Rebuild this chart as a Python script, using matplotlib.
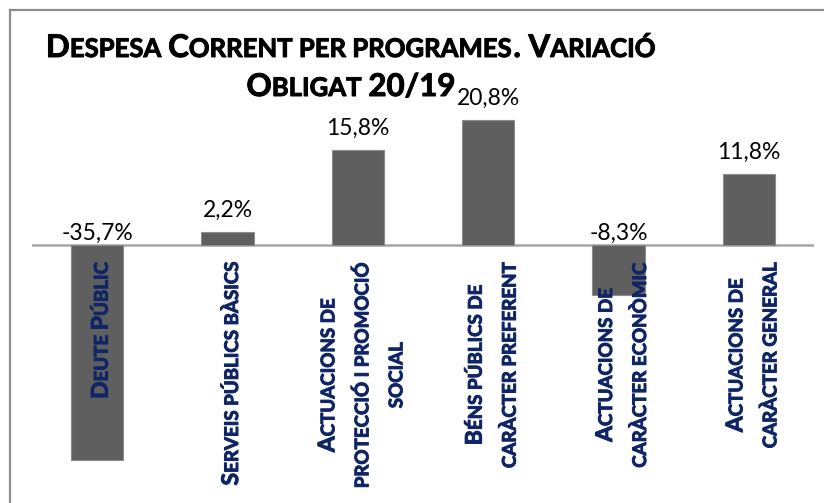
import matplotlib
matplotlib.use("Agg")
import matplotlib.pyplot as plt
import matplotlib.patheffects as pe
from matplotlib.font_manager import FontProperties
from matplotlib.lines import Line2D

# data
categories = [
    ["Deute Públic"],
    ["Serveis públics bàsics"],
    ["Actuacions de", "protecció i promoció", "social"],
    ["Béns públics de", "caràcter preferent"],
    ["Actuacions de", "caràcter econòmic"],
    ["Actuacions de", "caràcter general"],
]
values = [-35.7, 2.2, 15.8, 20.8, -8.3, 11.8]
title_lines = ["Despesa Corrent per programes. Variació", "Obligat 20/19"]

W, H = 824, 503
FONT = "Lato"
NAVY = "#0f2566"

fig = plt.figure(figsize=(W / 100, H / 100), dpi=100)
ax = fig.add_axes([32 / W, (H - 490) / H, 782 / W, (490 - 100) / H])

x = list(range(len(values)))
ax.bar(x, values, width=0.4, color="#5f5f5f", edgecolor="#8c8c8c", linewidth=0.8, zorder=2)
ax.set_xlim(-0.5, len(values) - 0.5)
ax.set_ylim(-(490 - 245) / 6.01, (245 - 100) / 6.01)
ax.axhline(0, color="#a6a6a6", lw=1.8, zorder=1)
ax.axis("off")

for i, v in enumerate(values):
    lbl = f"{v:.1f}%".replace(".", ",")
    ax.annotate(lbl, (i, max(v, 0)), xytext=(0, 15 if v > 0 else 5),
                textcoords="offset pixels", ha="center", va="baseline",
                fontsize=16.5, family=FONT, color="black")

renderer = fig.canvas.get_renderer()


def sc_runs(s):
    runs = []
    for ch in s:
        small = ch.islower()
        if ch == " " and runs:
            small = runs[-1][1]
        if runs and runs[-1][1] == small:
            runs[-1][0] += ch.upper()
        else:
            runs.append([ch.upper(), small])
    return runs


def run_width(r, prop):
    w1 = renderer.get_text_width_height_descent("|" + r + "|", prop, False)[0]
    w0 = renderer.get_text_width_height_descent("||", prop, False)[0]
    return w1 - w0


def props(big, small, is_small, weight):
    return FontProperties(family=FONT, weight=weight, size=small if is_small else big)


def sc_width(s, big, small, weight="bold"):
    return sum(run_width(r, props(big, small, sm, weight)) for r, sm in sc_runs(s))


def draw_sc(s, x0, y0, big, small, rot=0, color="black", weight="bold"):
    # x0, y0 = start of baseline in pixels (origin bottom-left)
    pos = 0.0
    for r, sm in sc_runs(s):
        p = props(big, small, sm, weight)
        if rot == 0:
            px, py = x0 + pos, y0
        else:
            px, py = x0, y0 + pos
        fig.text(px / W, py / H, r, fontproperties=p, rotation=rot,
                 rotation_mode="anchor", ha="left", va="baseline", color=color,
                 path_effects=[pe.withStroke(linewidth=0.7, foreground=color)])
        pos += run_width(r, p)


# title
t_big, t_small = 22.5, 18.5
title_center = 351
for line, base in zip(title_lines, [57, 96]):
    w = sc_width(line, t_big, t_small)
    draw_sc(line, title_center - w / 2, H - base, t_big, t_small)

# category labels, rotated
l_big, l_small = 16.5, 13.5
line_gap = 34
label_top = 262
for i, lines in enumerate(categories):
    tick_px = ax.transData.transform((i, 0))[0]
    widths = [sc_width(l, l_big, l_small) for l in lines]
    mid = label_top + max(widths) / 2
    n = len(lines)
    for j, (l, w) in enumerate(zip(lines, widths)):
        cx = tick_px + 2 + (j - (n - 1) / 2) * line_gap
        base_x = cx + 8.5
        start_y = H - (mid + w / 2)
        draw_sc(l, base_x, start_y, l_big, l_small, rot=90, color=NAVY)

# outer frame (top and left edges visible)
fig.add_artist(Line2D([10 / W, 1], [1 - 10 / H, 1 - 10 / H], color="#8c8c8c", lw=1.6))
fig.add_artist(Line2D([10 / W, 10 / W], [0, 1 - 10 / H], color="#8c8c8c", lw=1.6))

fig.savefig("out.png", dpi=100)
